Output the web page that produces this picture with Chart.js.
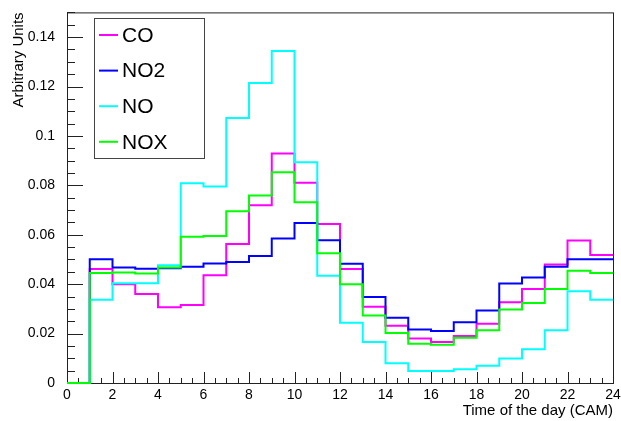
<!DOCTYPE html>
<html>
<head>
<meta charset="utf-8">
<title>Pollutants vs time of day</title>
<script src="https://cdn.jsdelivr.net/npm/chart.js@4.4.1/dist/chart.umd.min.js"></script>
<style>
  html, body { margin: 0; padding: 0; background: #fff; }
  #wrap { width: 621px; height: 421px; }
</style>
</head>
<body>
<div id="wrap"><canvas id="chart" width="621" height="421"></canvas></div>
<script>
// hour bin edges (bin i spans binEdges[i] .. binEdges[i+1])
const binEdges = [0, 1, 2, 3, 4, 5, 6, 7, 8, 9, 10, 11, 12, 13, 14, 15, 16, 17, 18, 19, 20, 21, 22, 23, 24];

const seriesNames = ['CO', 'NO2', 'NO', 'NOX'];
const seriesColors = ['#ff00ff', '#0000ff', '#00ffff', '#00ff00'];

const coValues = [0, 0.0461, 0.0400, 0.0360, 0.0307, 0.0316, 0.0436, 0.0563, 0.0719, 0.0929, 0.0811, 0.0644,
    0.0461, 0.0309, 0.0232, 0.0180, 0.0166, 0.0190, 0.0240, 0.0327, 0.0380, 0.0480, 0.0577, 0.0518];
const no2Values = [0, 0.0501, 0.0467, 0.0462, 0.0464, 0.0471, 0.0484, 0.0490, 0.0514, 0.0585, 0.0648, 0.0578,
    0.0483, 0.0348, 0.0264, 0.0217, 0.0210, 0.0246, 0.0293, 0.0403, 0.0427, 0.0471, 0.0501, 0.0501];
const noValues = [0, 0.0337, 0.0404, 0.0404, 0.0477, 0.0808, 0.0795, 0.1073, 0.1214, 0.1344, 0.0893, 0.0434,
    0.0244, 0.0166, 0.0080, 0.0049, 0.0049, 0.0056, 0.0070, 0.0099, 0.0137, 0.0213, 0.0371, 0.0337];
const noxValues = [0, 0.0445, 0.0447, 0.0443, 0.0467, 0.0592, 0.0595, 0.0695, 0.0759, 0.0853, 0.0732, 0.0525,
    0.0400, 0.0273, 0.0202, 0.0159, 0.0155, 0.0183, 0.0213, 0.0297, 0.0324, 0.0380, 0.0454, 0.0445];

const allValues = [coValues, no2Values, noValues, noxValues];

const FONT = '"Liberation Sans", Arial, Helvetica, sans-serif';

// histogram outline: one point per left edge, plus the closing right edge
function histPoints(values) {
    const pts = values.map((v, i) => ({ x: binEdges[i], y: v }));
    pts.push({ x: binEdges[values.length], y: values[values.length - 1] });
    return pts;
}

// ROOT-like frame with inward ticks
const frameTicks = {
    id: 'frameTicks',
    beforeDatasetsDraw(chart) {
        const { ctx, chartArea: a, scales: { x, y } } = chart;
        ctx.save();
        ctx.strokeStyle = '#222';
        ctx.lineWidth = 1;
        ctx.strokeRect(a.left + 0.5, a.top + 0.5, a.right - a.left, a.bottom - a.top);
        ctx.beginPath();
        for (let k = 0; k <= 48; k++) {
            const px = Math.round(x.getPixelForValue(k * 0.5)) + 0.5;
            const len = k % 4 === 0 ? 11 : 5;
            ctx.moveTo(px, a.bottom);
            ctx.lineTo(px, a.bottom - len);
        }
        for (let k = 0; k <= 30; k++) {
            const py = Math.round(y.getPixelForValue(k * 0.005)) + 0.5;
            const len = k % 4 === 0 ? 16 : 8;
            ctx.moveTo(a.left, py);
            ctx.lineTo(a.left + len, py);
        }
        ctx.stroke();
        ctx.restore();
    }
};

// boxed legend in the upper left corner
const boxLegend = {
    id: 'boxLegend',
    afterDraw(chart) {
        const ctx = chart.ctx;
        const bx = 94.5, by = 18.5, bw = 110, bh = 140;
        ctx.save();
        ctx.fillStyle = '#fff';
        ctx.fillRect(bx, by, bw, bh);
        ctx.strokeStyle = '#444';
        ctx.lineWidth = 1;
        ctx.strokeRect(bx, by, bw, bh);
        ctx.font = '21px ' + FONT;
        ctx.textBaseline = 'middle';
        ctx.textAlign = 'left';
        chart.data.datasets.forEach((ds, i) => {
            const ly = 35 + i * 35.6;
            ctx.strokeStyle = ds.borderColor;
            ctx.lineWidth = 2;
            ctx.beginPath();
            ctx.moveTo(99, ly);
            ctx.lineTo(118, ly);
            ctx.stroke();
            ctx.fillStyle = '#000';
            ctx.fillText(ds.label, 122, ly + 1);
        });
        ctx.restore();
    }
};

const datasets = seriesNames.map((name, i) => ({
    label: name,
    data: histPoints(allValues[i]),
    borderColor: seriesColors[i],
    backgroundColor: seriesColors[i],
    borderWidth: 2,
    pointRadius: 0,
    stepped: 'before',
    fill: false,
    clip: 4,
    order: seriesNames.length - i
}));

new Chart(document.getElementById('chart'), {
    type: 'line',
    data: { datasets },
    options: {
        responsive: false,
        animation: false,
        events: [],
        layout: { padding: { top: 9, right: 8, left: 0, bottom: 0 } },
        plugins: {
            legend: { display: false },
            tooltip: { enabled: false }
        },
        scales: {
            x: {
                type: 'linear',
                min: 0,
                max: 24,
                grid: { display: false },
                border: { display: false },
                ticks: {
                    stepSize: 2,
                    padding: -4,
                    color: '#000',
                    maxRotation: 0,
                    font: { family: FONT, size: 14 }
                },
                title: {
                    display: true,
                    text: 'Time of the day (CAM)',
                    align: 'end',
                    color: '#000',
                    padding: { top: 0, bottom: 1 },
                    font: { family: FONT, size: 15 }
                },
                afterFit(scale) { scale.height = 38; }
            },
            y: {
                min: 0,
                max: 0.15,
                grid: { display: false },
                border: { display: false },
                ticks: {
                    stepSize: 0.02,
                    includeBounds: false,
                    padding: 4,
                    color: '#000',
                    font: { family: FONT, size: 14 },
                    callback: v => String(+v.toFixed(3))
                },
                title: {
                    display: true,
                    text: 'Arbitrary Units',
                    align: 'end',
                    color: '#000',
                    padding: { top: 10, bottom: 0 },
                    font: { family: FONT, size: 15 }
                },
                afterFit(scale) { scale.width = 67; }
            }
        }
    },
    plugins: [frameTicks, boxLegend]
});
</script>
</body>
</html>
